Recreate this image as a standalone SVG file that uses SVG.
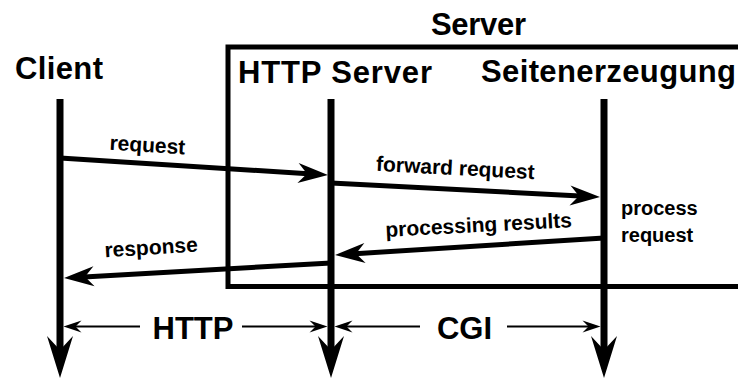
<svg xmlns="http://www.w3.org/2000/svg" width="738" height="378" viewBox="0 0 738 378">
  <style>
    .big { font-family: "Liberation Sans", Arial, sans-serif; font-weight: bold; font-size: 31px; fill: #000; }
    .small { font-family: "Liberation Sans", Arial, sans-serif; font-weight: bold; font-size: 21px; fill: #000; }
    .note { font-family: "Liberation Sans", Arial, sans-serif; font-weight: bold; font-size: 20px; fill: #000; }
    .life { stroke: #000; stroke-width: 7; fill: none; }
    .msg { stroke: #000; stroke-width: 5; fill: none; }
    .dim { stroke: #000; stroke-width: 2; fill: none; }
    .box { stroke: #000; stroke-width: 5; fill: none; }
  </style>
  <defs>
    <marker id="ah" markerUnits="userSpaceOnUse" viewBox="-31 -11 32 22" markerWidth="32" markerHeight="22" refX="-20" refY="0" orient="auto">
      <path d="M0,0 L-30,-10 L-21,0 L-30,10 Z" fill="#000"/>
    </marker>
    <marker id="ahs" markerUnits="userSpaceOnUse" viewBox="-19 -7 20 14" markerWidth="20" markerHeight="14" refX="-10" refY="0" orient="auto">
      <path d="M0,0 L-18,-6 L-12,0 L-18,6 Z" fill="#000"/>
    </marker>
    <marker id="ahl" markerUnits="userSpaceOnUse" viewBox="-43 -14 44 28" markerWidth="44" markerHeight="28" refX="-26" refY="0" orient="auto">
      <path d="M0,0 L-42,-13 L-28,0 L-42,13 Z" fill="#000"/>
    </marker>
  </defs>

  <g id="server-box">
    <rect class="box" x="228" y="47" width="540" height="239.5"/>
    <text class="big" x="431" y="35" textLength="95">Server</text>
  </g>

  <g id="client">
    <text class="big" x="15" y="79" textLength="88">Client</text>
    <line class="life" x1="60" y1="99" x2="60" y2="352" marker-end="url(#ahl)"/>
  </g>

  <g id="http-server">
    <text class="big" x="238" y="83" textLength="194">HTTP Server</text>
    <line class="life" x1="331" y1="99" x2="331" y2="352" marker-end="url(#ahl)"/>
  </g>

  <g id="seitenerzeugung">
    <text class="big" x="481" y="82" textLength="255">Seitenerzeugung</text>
    <line class="life" x1="604" y1="99" x2="604" y2="352" marker-end="url(#ahl)"/>
    <text class="note" x="621" y="215">process</text>
    <text class="note" x="621" y="241.5">request</text>
  </g>

  <g id="connectors">
    <line class="msg" x1="60" y1="158" x2="308" y2="173.7" marker-end="url(#ah)"/>
    <text class="small" x="147" y="152" text-anchor="middle" transform="rotate(3.5 147 152)">request</text>

    <line class="msg" x1="331" y1="183" x2="580" y2="196" marker-end="url(#ah)"/>
    <text class="small" x="455" y="175" text-anchor="middle" transform="rotate(3 455 175)">forward request</text>

    <line class="msg" x1="604" y1="238" x2="355" y2="253.7" marker-end="url(#ah)"/>
    <text class="small" x="479" y="232" text-anchor="middle" transform="rotate(-3 479 232)">processing results</text>

    <line class="msg" x1="331" y1="263" x2="84" y2="276.9" marker-end="url(#ah)"/>
    <text class="small" x="151.5" y="254.5" text-anchor="middle" transform="rotate(-3.5 151.5 254.5)">response</text>

    <line class="dim" x1="140" y1="326.5" x2="73.5" y2="326.5" marker-end="url(#ahs)"/>
    <line class="dim" x1="242" y1="326.5" x2="317.5" y2="326.5" marker-end="url(#ahs)"/>
    <text class="big" x="193" y="339" text-anchor="middle">HTTP</text>

    <line class="dim" x1="420" y1="326.5" x2="344.5" y2="326.5" marker-end="url(#ahs)"/>
    <line class="dim" x1="507" y1="326.5" x2="590.5" y2="326.5" marker-end="url(#ahs)"/>
    <text class="big" x="464.5" y="339" text-anchor="middle">CGI</text>
  </g>
</svg>
